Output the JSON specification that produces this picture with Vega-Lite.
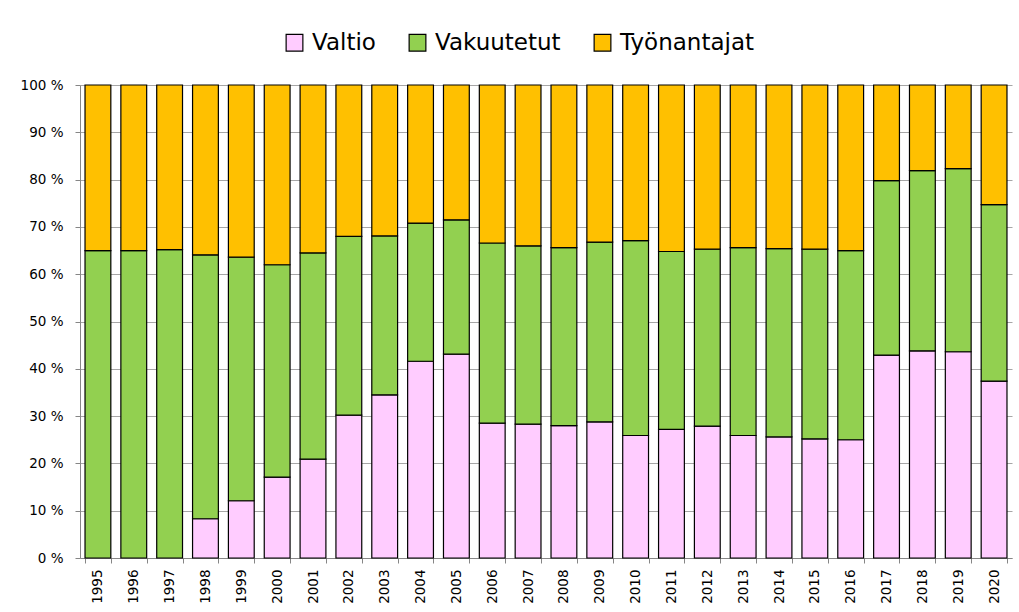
{
  "$schema": "https://vega.github.io/schema/vega-lite/v6.json",
  "width": 932,
  "height": 473,
  "autosize": "none",
  "padding": {"left": 80, "top": 85, "right": 7, "bottom": 54},
  "background": "white",
  "config": {
    "view": {"stroke": null},
    "font": "DejaVu Sans"
  },
  "data": {
    "values": [
      {"vuosi": "1995", "sarja": "Vakuutetut", "o": 2, "osuus": 65.0},
      {"vuosi": "1995", "sarja": "Työnantajat", "o": 3, "osuus": 35.0},
      {"vuosi": "1996", "sarja": "Vakuutetut", "o": 2, "osuus": 65.0},
      {"vuosi": "1996", "sarja": "Työnantajat", "o": 3, "osuus": 35.0},
      {"vuosi": "1997", "sarja": "Vakuutetut", "o": 2, "osuus": 65.2},
      {"vuosi": "1997", "sarja": "Työnantajat", "o": 3, "osuus": 34.8},
      {"vuosi": "1998", "sarja": "Valtio", "o": 1, "osuus": 8.3},
      {"vuosi": "1998", "sarja": "Vakuutetut", "o": 2, "osuus": 55.8},
      {"vuosi": "1998", "sarja": "Työnantajat", "o": 3, "osuus": 35.9},
      {"vuosi": "1999", "sarja": "Valtio", "o": 1, "osuus": 12.1},
      {"vuosi": "1999", "sarja": "Vakuutetut", "o": 2, "osuus": 51.5},
      {"vuosi": "1999", "sarja": "Työnantajat", "o": 3, "osuus": 36.4},
      {"vuosi": "2000", "sarja": "Valtio", "o": 1, "osuus": 17.1},
      {"vuosi": "2000", "sarja": "Vakuutetut", "o": 2, "osuus": 44.9},
      {"vuosi": "2000", "sarja": "Työnantajat", "o": 3, "osuus": 38.0},
      {"vuosi": "2001", "sarja": "Valtio", "o": 1, "osuus": 20.9},
      {"vuosi": "2001", "sarja": "Vakuutetut", "o": 2, "osuus": 43.6},
      {"vuosi": "2001", "sarja": "Työnantajat", "o": 3, "osuus": 35.5},
      {"vuosi": "2002", "sarja": "Valtio", "o": 1, "osuus": 30.2},
      {"vuosi": "2002", "sarja": "Vakuutetut", "o": 2, "osuus": 37.8},
      {"vuosi": "2002", "sarja": "Työnantajat", "o": 3, "osuus": 32.0},
      {"vuosi": "2003", "sarja": "Valtio", "o": 1, "osuus": 34.5},
      {"vuosi": "2003", "sarja": "Vakuutetut", "o": 2, "osuus": 33.6},
      {"vuosi": "2003", "sarja": "Työnantajat", "o": 3, "osuus": 31.9},
      {"vuosi": "2004", "sarja": "Valtio", "o": 1, "osuus": 41.6},
      {"vuosi": "2004", "sarja": "Vakuutetut", "o": 2, "osuus": 29.2},
      {"vuosi": "2004", "sarja": "Työnantajat", "o": 3, "osuus": 29.2},
      {"vuosi": "2005", "sarja": "Valtio", "o": 1, "osuus": 43.1},
      {"vuosi": "2005", "sarja": "Vakuutetut", "o": 2, "osuus": 28.4},
      {"vuosi": "2005", "sarja": "Työnantajat", "o": 3, "osuus": 28.5},
      {"vuosi": "2006", "sarja": "Valtio", "o": 1, "osuus": 28.5},
      {"vuosi": "2006", "sarja": "Vakuutetut", "o": 2, "osuus": 38.1},
      {"vuosi": "2006", "sarja": "Työnantajat", "o": 3, "osuus": 33.4},
      {"vuosi": "2007", "sarja": "Valtio", "o": 1, "osuus": 28.3},
      {"vuosi": "2007", "sarja": "Vakuutetut", "o": 2, "osuus": 37.7},
      {"vuosi": "2007", "sarja": "Työnantajat", "o": 3, "osuus": 34.0},
      {"vuosi": "2008", "sarja": "Valtio", "o": 1, "osuus": 28.0},
      {"vuosi": "2008", "sarja": "Vakuutetut", "o": 2, "osuus": 37.6},
      {"vuosi": "2008", "sarja": "Työnantajat", "o": 3, "osuus": 34.4},
      {"vuosi": "2009", "sarja": "Valtio", "o": 1, "osuus": 28.8},
      {"vuosi": "2009", "sarja": "Vakuutetut", "o": 2, "osuus": 38.0},
      {"vuosi": "2009", "sarja": "Työnantajat", "o": 3, "osuus": 33.2},
      {"vuosi": "2010", "sarja": "Valtio", "o": 1, "osuus": 25.9},
      {"vuosi": "2010", "sarja": "Vakuutetut", "o": 2, "osuus": 41.2},
      {"vuosi": "2010", "sarja": "Työnantajat", "o": 3, "osuus": 32.9},
      {"vuosi": "2011", "sarja": "Valtio", "o": 1, "osuus": 27.2},
      {"vuosi": "2011", "sarja": "Vakuutetut", "o": 2, "osuus": 37.6},
      {"vuosi": "2011", "sarja": "Työnantajat", "o": 3, "osuus": 35.2},
      {"vuosi": "2012", "sarja": "Valtio", "o": 1, "osuus": 27.9},
      {"vuosi": "2012", "sarja": "Vakuutetut", "o": 2, "osuus": 37.4},
      {"vuosi": "2012", "sarja": "Työnantajat", "o": 3, "osuus": 34.7},
      {"vuosi": "2013", "sarja": "Valtio", "o": 1, "osuus": 25.9},
      {"vuosi": "2013", "sarja": "Vakuutetut", "o": 2, "osuus": 39.7},
      {"vuosi": "2013", "sarja": "Työnantajat", "o": 3, "osuus": 34.4},
      {"vuosi": "2014", "sarja": "Valtio", "o": 1, "osuus": 25.6},
      {"vuosi": "2014", "sarja": "Vakuutetut", "o": 2, "osuus": 39.8},
      {"vuosi": "2014", "sarja": "Työnantajat", "o": 3, "osuus": 34.6},
      {"vuosi": "2015", "sarja": "Valtio", "o": 1, "osuus": 25.2},
      {"vuosi": "2015", "sarja": "Vakuutetut", "o": 2, "osuus": 40.1},
      {"vuosi": "2015", "sarja": "Työnantajat", "o": 3, "osuus": 34.7},
      {"vuosi": "2016", "sarja": "Valtio", "o": 1, "osuus": 25.0},
      {"vuosi": "2016", "sarja": "Vakuutetut", "o": 2, "osuus": 40.0},
      {"vuosi": "2016", "sarja": "Työnantajat", "o": 3, "osuus": 35.0},
      {"vuosi": "2017", "sarja": "Valtio", "o": 1, "osuus": 42.9},
      {"vuosi": "2017", "sarja": "Vakuutetut", "o": 2, "osuus": 36.9},
      {"vuosi": "2017", "sarja": "Työnantajat", "o": 3, "osuus": 20.2},
      {"vuosi": "2018", "sarja": "Valtio", "o": 1, "osuus": 43.8},
      {"vuosi": "2018", "sarja": "Vakuutetut", "o": 2, "osuus": 38.1},
      {"vuosi": "2018", "sarja": "Työnantajat", "o": 3, "osuus": 18.1},
      {"vuosi": "2019", "sarja": "Valtio", "o": 1, "osuus": 43.6},
      {"vuosi": "2019", "sarja": "Vakuutetut", "o": 2, "osuus": 38.7},
      {"vuosi": "2019", "sarja": "Työnantajat", "o": 3, "osuus": 17.7},
      {"vuosi": "2020", "sarja": "Valtio", "o": 1, "osuus": 37.4},
      {"vuosi": "2020", "sarja": "Vakuutetut", "o": 2, "osuus": 37.3},
      {"vuosi": "2020", "sarja": "Työnantajat", "o": 3, "osuus": 25.3}
    ]
  },
  "mark": {"type": "bar", "stroke": "black", "strokeWidth": 1.2},
  "encoding": {
    "x": {
      "field": "vuosi",
      "type": "ordinal",
      "title": null,
      "scale": {"paddingInner": 0.28, "paddingOuter": 0.14},
      "axis": {
        "labelAngle": -90,
        "labelFontSize": 13.5,
        "labelColor": "black",
        "labelPadding": 6,
        "tickBand": "extent",
        "tickSize": 5,
        "tickColor": "#868686",
        "domainColor": "#868686",
        "grid": false
      }
    },
    "y": {
      "field": "osuus",
      "type": "quantitative",
      "stack": "zero",
      "title": null,
      "scale": {"domain": [0, 100], "nice": false},
      "axis": {
        "values": [0, 10, 20, 30, 40, 50, 60, 70, 80, 90, 100],
        "labelExpr": "datum.value + ' %'",
        "labelFontSize": 13.5,
        "labelColor": "black",
        "labelPadding": 12,
        "tickSize": 5,
        "tickColor": "#868686",
        "domainColor": "#868686",
        "gridColor": "#a6a6a6",
        "gridWidth": 1.2
      }
    },
    "color": {
      "field": "sarja",
      "type": "nominal",
      "scale": {
        "domain": ["Valtio", "Vakuutetut", "Työnantajat"],
        "range": ["#FFCCFF", "#92D050", "#FFC000"]
      },
      "legend": {
        "title": null,
        "orient": "none",
        "direction": "horizontal",
        "legendX": 203,
        "legendY": -54,
        "symbolType": "square",
        "symbolSize": 280,
        "symbolStrokeColor": "black",
        "symbolStrokeWidth": 1.2,
        "labelFontSize": 23,
        "labelColor": "black",
        "columnPadding": 30,
        "labelOffset": 6
      }
    },
    "order": {"field": "o", "type": "quantitative"}
  }
}
